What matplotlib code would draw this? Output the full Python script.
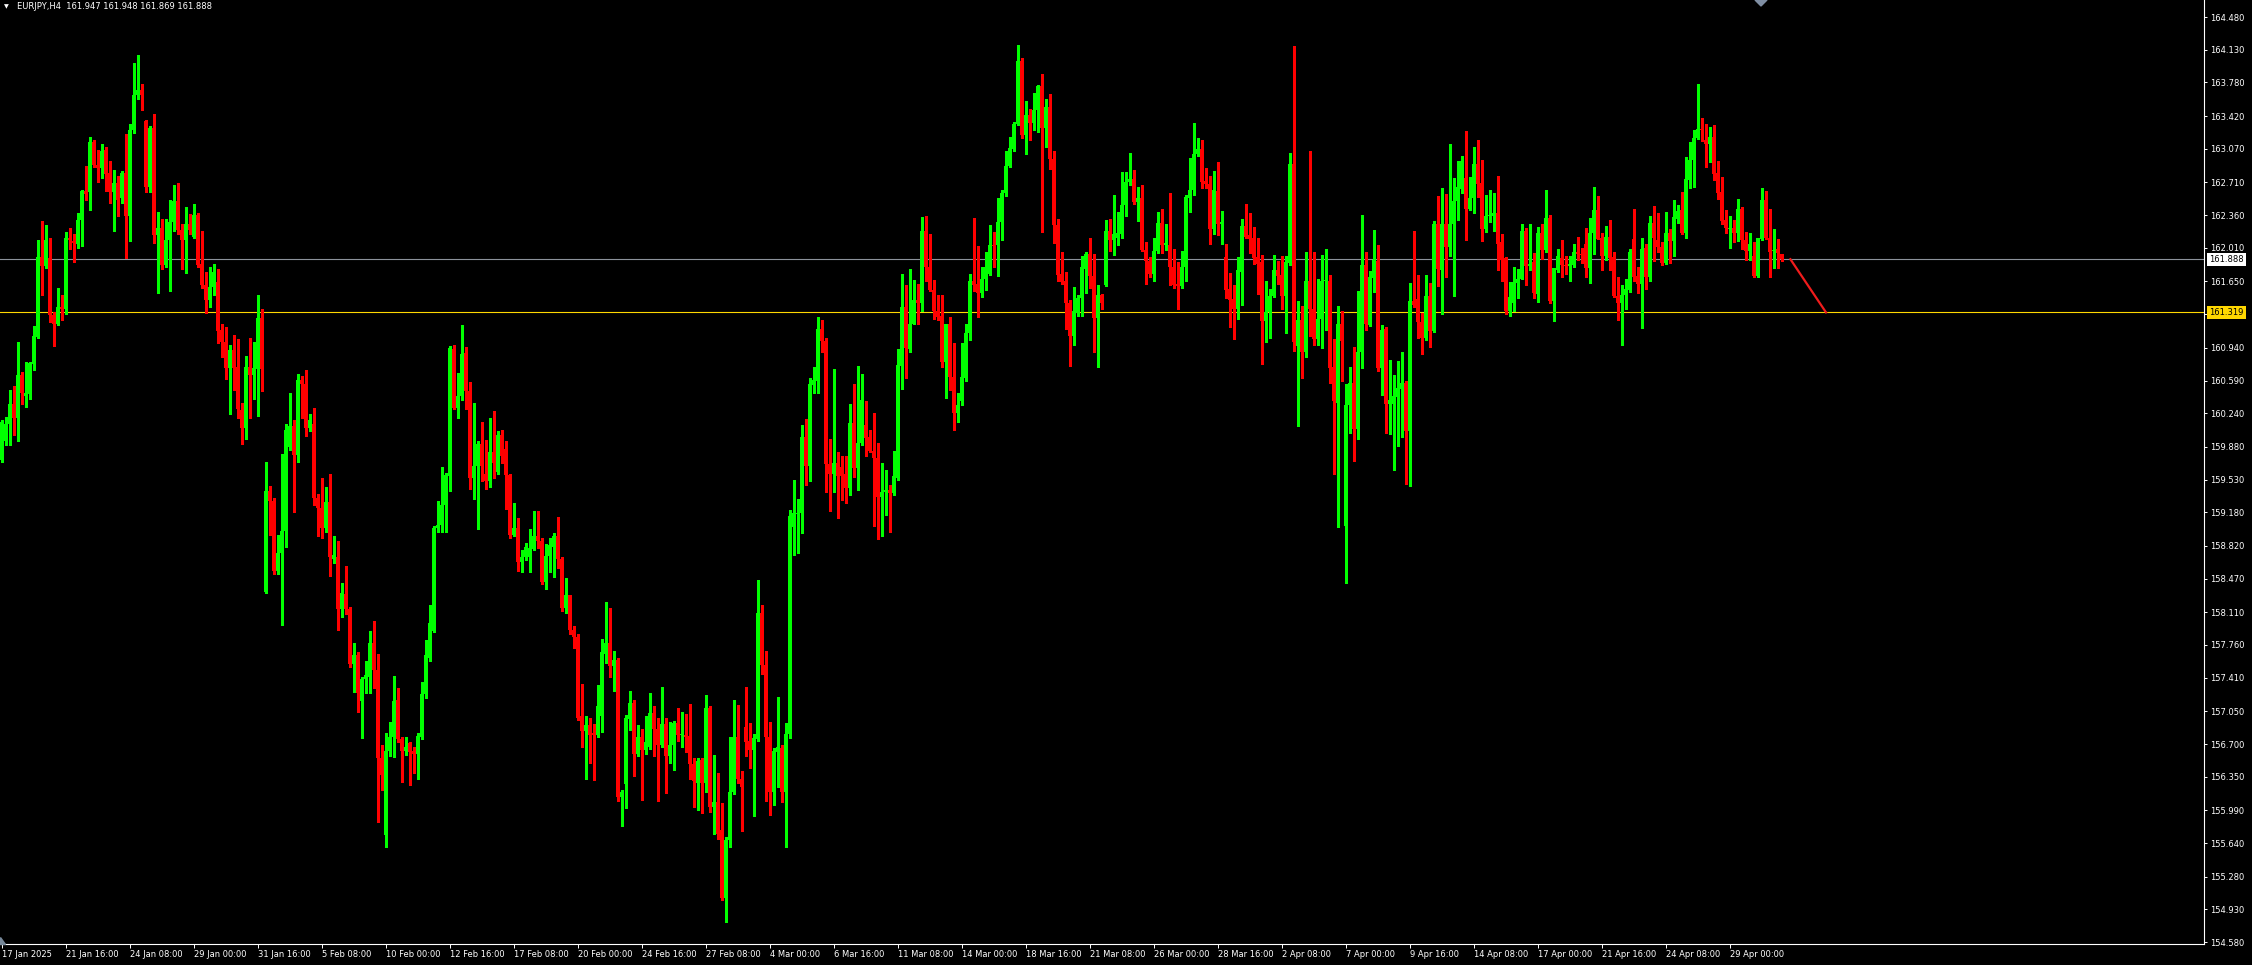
import matplotlib
matplotlib.use("Agg")
import matplotlib.pyplot as plt
from matplotlib.patches import Polygon
import numpy as np

# EURJPY H4 candles (bar 0 = 17 Jan 2025 00:00)
symbol = "EURJPY,H4"

opens = [
    159.74, 159.94, 160.13, 160.34, 160.19, 160.65, 160.42, 160.45, 160.77, 161.06,
    161.91, 161.82, 161.90, 161.29, 161.19, 161.38, 161.36, 162.12, 162.08, 162.05,
    162.31, 162.62, 162.61, 163.14, 162.90, 162.86, 163.06, 162.81, 162.61, 162.70,
    162.54, 162.81, 162.35, 163.27, 163.65, 163.70, 163.37, 162.66, 163.29, 162.15,
    162.22, 161.83, 162.09, 162.29, 162.51, 162.20, 162.09, 162.26, 162.13, 162.36,
    161.84, 161.61, 161.45, 161.59, 161.64, 161.13, 161.00, 160.72, 160.92, 160.73,
    160.27, 160.08, 160.73, 160.65, 160.71, 161.26, 158.33, 159.41, 159.30, 158.55,
    158.74, 158.98, 159.88, 160.10, 159.79, 160.60, 160.55, 160.08, 160.13, 159.33,
    159.23, 159.01, 159.29, 158.68, 158.70, 158.14, 158.31, 158.14, 157.56, 157.65,
    157.16, 157.40, 157.42, 157.78, 157.49, 156.55, 155.73, 156.62, 156.77, 157.17,
    156.75, 156.62, 156.71, 156.62, 156.59, 156.78, 157.23, 157.62, 157.91, 159.01,
    159.04, 159.26, 159.57, 160.93, 160.30, 160.42, 160.88, 160.48, 159.55, 159.68,
    159.91, 159.59, 159.52, 159.83, 159.61, 160.01, 159.86, 159.58, 158.94, 159.01,
    158.65, 158.70, 158.70, 158.79, 158.93, 158.87, 158.43, 158.71, 158.81, 158.93,
    158.68, 158.16, 158.29, 157.92, 157.85, 157.00, 156.84, 156.90, 156.82, 156.80,
    157.00, 157.66, 157.78, 157.54, 157.60, 156.13, 156.27, 156.97, 157.14, 156.59,
    156.77, 156.64, 156.67, 157.03, 156.86, 156.69, 156.91, 156.57, 156.69, 156.92,
    156.80, 156.80, 156.79, 156.49, 156.28, 156.53, 156.28, 157.09, 156.03, 156.08,
    155.78, 155.05, 155.67, 156.19, 156.78, 156.33, 156.88, 156.73, 156.64, 156.75,
    158.10, 157.55, 156.78, 156.19, 156.61, 156.66, 156.19, 156.81, 159.02, 159.16,
    159.17, 159.99, 159.67, 160.54, 160.58, 161.14, 161.01, 159.70, 159.59, 159.71,
    159.66, 159.59, 159.44, 160.14, 159.65, 159.92, 160.11, 159.99, 159.84, 159.76,
    159.34, 159.40, 159.42, 159.39, 159.55, 160.75, 161.38, 160.93, 161.19, 161.45,
    161.42, 162.19, 161.80, 161.56, 161.33, 161.28, 160.79, 161.19, 160.63, 160.24,
    160.37, 160.62, 161.10, 161.66, 161.62, 161.53, 161.68, 161.73, 162.04, 162.04,
    162.29, 162.60, 162.89, 163.07, 163.33, 164.01, 163.22, 163.43, 163.35, 163.48,
    163.74, 163.29, 163.52, 162.96, 162.25, 161.73, 161.66, 161.42, 161.07, 161.31,
    161.47, 161.78, 161.94, 161.71, 161.26, 161.50, 161.61, 162.19, 162.09, 162.12,
    162.16, 162.47, 162.71, 162.75, 162.50, 162.54, 161.99, 161.87, 161.73, 161.98,
    162.28, 162.04, 162.04, 161.81, 161.62, 161.60, 161.80, 162.54, 162.63, 163.01,
    163.07, 162.73, 162.69, 162.21, 162.62, 162.26, 161.91, 161.57, 161.46, 161.36,
    161.75, 162.24, 162.15, 162.12, 161.91, 161.86, 161.23, 161.32, 161.49, 161.77,
    161.72, 161.49, 161.85, 162.91, 160.96, 161.24, 160.89, 161.66, 161.35, 161.03,
    161.25, 161.65, 161.66, 160.73, 160.35, 161.20, 159.03, 160.33, 160.56, 160.07,
    160.89, 161.83, 161.18, 161.69, 161.87, 160.72, 161.14, 160.34, 160.34, 160.41,
    160.50, 160.56, 160.05, 161.44, 161.46, 161.22, 161.04, 161.49, 161.12, 162.27,
    161.77, 162.27, 162.02, 162.26, 162.51, 162.64, 162.76, 162.43, 162.54, 162.91,
    162.70, 162.21, 162.35, 162.35, 162.38, 162.07, 161.90, 161.33, 161.42, 161.63,
    161.68, 162.19, 161.82, 161.86, 161.52, 162.17, 161.99, 162.33, 161.44, 161.77,
    161.90, 161.83, 161.82, 161.83, 161.96, 161.94, 162.05, 161.79, 162.17, 162.41,
    162.12, 161.92, 162.13, 161.91, 161.49, 161.42, 161.50, 161.56, 162.10, 161.71,
    161.62, 162.01, 161.70, 162.28, 162.09, 162.02, 161.85, 162.17, 162.08, 162.32,
    162.42, 162.17, 162.74, 162.95, 163.18, 163.28, 163.16, 163.12, 163.20, 162.81,
    162.61, 162.31, 162.21, 162.22, 162.17, 162.43, 162.09, 161.98, 161.92, 161.71,
    162.10, 162.52, 162.12, 161.98, 162.00, 161.947,
]

highs = [
    160.17, 160.20, 160.49, 160.53, 161.00, 160.68, 160.79, 160.79, 161.17, 162.09,
    162.30, 162.25, 162.12, 161.32, 161.58, 161.51, 162.18, 162.22, 162.16, 162.38,
    162.63, 162.89, 163.20, 163.16, 163.06, 163.12, 163.09, 162.94, 162.84, 162.78,
    162.83, 163.23, 163.33, 163.99, 164.07, 163.76, 163.38, 163.31, 163.44, 162.39,
    162.32, 162.32, 162.52, 162.68, 162.70, 162.27, 162.45, 162.37, 162.48, 162.38,
    162.19, 161.75, 161.81, 161.84, 161.78, 161.19, 161.16, 160.97, 161.08, 161.03,
    160.35, 160.85, 161.04, 161.00, 161.50, 161.35, 159.72, 159.46, 159.33, 158.94,
    159.80, 160.13, 160.46, 160.17, 160.66, 160.64, 160.70, 160.23, 160.30, 159.38,
    159.55, 159.45, 159.59, 158.93, 158.87, 158.42, 158.61, 158.17, 157.78, 157.69,
    157.42, 157.59, 157.91, 158.02, 157.66, 156.69, 156.82, 156.94, 157.43, 157.30,
    156.78, 156.77, 156.72, 156.67, 156.82, 157.36, 157.81, 158.19, 159.03, 159.30,
    159.66, 159.60, 160.96, 160.97, 160.67, 161.18, 160.95, 160.57, 160.35, 159.94,
    160.15, 159.95, 160.19, 160.26, 160.05, 160.06, 159.94, 159.59, 159.28, 159.12,
    158.78, 158.85, 159.00, 159.19, 159.19, 158.90, 158.84, 158.91, 158.96, 159.13,
    158.70, 158.48, 158.30, 157.96, 157.88, 157.34, 157.00, 156.98, 156.91, 157.33,
    157.82, 158.22, 158.16, 157.70, 157.62, 156.21, 157.01, 157.27, 157.17, 156.90,
    156.86, 157.00, 157.25, 157.11, 156.98, 157.31, 156.98, 156.94, 156.95, 157.09,
    157.04, 157.02, 157.13, 156.55, 156.55, 156.55, 157.22, 157.11, 156.58, 156.39,
    156.07, 155.71, 156.78, 157.17, 157.12, 156.41, 157.31, 156.92, 156.81, 158.46,
    158.19, 157.70, 156.94, 156.66, 157.20, 156.69, 156.93, 159.20, 159.53, 159.32,
    160.11, 160.18, 160.62, 160.73, 161.27, 161.24, 161.05, 159.96, 160.71, 159.82,
    159.78, 159.78, 160.34, 160.55, 160.75, 160.66, 160.37, 160.06, 160.24, 159.92,
    159.71, 159.63, 159.47, 159.84, 160.93, 161.73, 161.61, 161.78, 161.67, 161.62,
    162.34, 162.35, 162.16, 161.67, 161.50, 161.51, 161.20, 161.27, 160.99, 160.46,
    160.99, 161.19, 161.73, 162.33, 162.03, 161.80, 161.96, 162.25, 162.18, 162.54,
    162.63, 163.05, 163.20, 163.36, 164.18, 164.04, 163.58, 163.50, 163.67, 163.75,
    163.87, 163.60, 163.66, 163.05, 162.32, 161.96, 161.75, 161.45, 161.59, 161.50,
    161.92, 161.96, 162.12, 161.94, 161.61, 161.52, 162.31, 162.32, 162.57, 162.39,
    162.82, 162.82, 163.02, 162.84, 162.66, 162.68, 162.07, 161.91, 162.12, 162.39,
    162.43, 162.26, 162.60, 162.00, 161.86, 161.98, 162.57, 162.97, 163.35, 163.19,
    163.16, 162.86, 162.78, 162.83, 162.93, 162.40, 162.05, 161.74, 161.61, 161.91,
    162.32, 162.48, 162.38, 162.23, 162.12, 161.93, 161.66, 161.57, 161.93, 161.87,
    161.92, 161.92, 163.03, 164.17, 161.44, 161.39, 161.96, 163.05, 161.96, 161.68,
    161.93, 162.00, 161.72, 161.03, 161.39, 161.33, 160.55, 160.73, 160.95, 161.55,
    162.36, 161.96, 161.76, 162.20, 162.04, 161.18, 161.16, 160.81, 160.65, 160.80,
    160.89, 160.59, 161.63, 162.19, 161.72, 161.31, 161.72, 161.63, 162.30, 162.56,
    162.65, 162.59, 163.12, 162.76, 162.94, 162.99, 163.26, 162.77, 163.09, 163.16,
    162.95, 162.58, 162.63, 162.60, 162.78, 162.16, 161.91, 161.64, 161.81, 161.78,
    162.26, 162.22, 162.27, 161.95, 162.23, 162.27, 162.63, 162.36, 161.79, 162.00,
    162.09, 161.92, 161.92, 162.05, 162.13, 162.01, 162.22, 162.33, 162.66, 162.56,
    162.17, 162.24, 162.31, 161.96, 161.70, 161.61, 161.68, 162.00, 162.43, 161.80,
    162.12, 162.05, 162.35, 162.46, 162.38, 162.07, 162.39, 162.21, 162.52, 162.47,
    162.61, 162.98, 163.14, 163.27, 163.76, 163.40, 163.33, 163.30, 163.32, 162.94,
    162.77, 162.42, 162.35, 162.31, 162.53, 162.45, 162.18, 162.17, 162.07, 162.12,
    162.65, 162.62, 162.43, 162.21, 162.10, 161.948,
]

lows = [
    159.72, 159.90, 159.90, 160.01, 159.94, 160.34, 160.31, 160.39, 160.70, 161.05,
    161.51, 161.79, 161.22, 160.96, 161.18, 161.24, 161.30, 162.00, 161.86, 162.01,
    162.03, 162.52, 162.42, 162.87, 162.71, 162.76, 162.62, 162.49, 162.19, 162.35,
    162.49, 161.90, 162.08, 163.24, 163.60, 163.49, 162.61, 162.61, 162.06, 161.53,
    161.78, 161.80, 161.55, 162.19, 162.16, 161.78, 161.74, 162.16, 162.12, 161.80,
    161.58, 161.31, 161.38, 161.51, 160.99, 160.84, 160.61, 160.23, 160.49, 160.19,
    159.91, 159.96, 160.19, 160.39, 160.21, 160.48, 158.32, 158.94, 158.52, 158.52,
    157.97, 158.81, 159.85, 159.18, 159.72, 160.19, 160.00, 160.05, 159.26, 158.93,
    158.90, 158.97, 158.50, 158.64, 157.92, 158.06, 158.09, 157.52, 157.26, 157.04,
    156.76, 157.25, 157.25, 157.30, 155.87, 156.21, 155.60, 156.57, 156.56, 156.72,
    156.29, 156.58, 156.26, 156.39, 156.33, 156.75, 157.19, 157.59, 157.90, 158.97,
    158.97, 158.97, 159.41, 160.29, 160.19, 160.38, 160.28, 159.43, 159.32, 159.00,
    159.52, 159.43, 159.45, 159.55, 159.59, 159.71, 159.21, 158.91, 158.93, 158.55,
    158.54, 158.67, 158.54, 158.78, 158.80, 158.41, 158.36, 158.54, 158.49, 158.58,
    158.12, 158.10, 157.88, 157.73, 156.96, 156.67, 156.33, 156.50, 156.32, 156.78,
    156.83, 157.57, 157.42, 157.27, 156.09, 155.82, 156.02, 156.85, 156.36, 156.57,
    156.10, 156.59, 156.65, 156.57, 156.09, 156.67, 156.18, 156.50, 156.42, 156.73,
    156.67, 156.61, 156.33, 156.03, 155.99, 155.96, 156.19, 155.97, 155.74, 155.68,
    155.03, 154.80, 155.60, 156.17, 156.28, 155.77, 156.57, 156.44, 155.93, 156.73,
    157.45, 156.09, 155.94, 156.05, 156.24, 156.08, 155.60, 156.76, 158.72, 158.74,
    158.96, 159.47, 159.51, 160.46, 160.46, 160.89, 159.40, 159.19, 159.40, 159.12,
    159.31, 159.28, 159.37, 159.56, 159.42, 159.90, 159.78, 159.82, 159.03, 158.89,
    158.93, 159.15, 158.97, 159.37, 159.53, 160.50, 160.62, 160.89, 161.19, 161.20,
    161.33, 161.66, 161.55, 161.25, 161.24, 160.73, 160.40, 160.49, 160.06, 160.15,
    160.33, 160.58, 161.02, 161.55, 161.27, 161.48, 161.56, 161.72, 161.80, 161.71,
    162.09, 162.56, 162.87, 163.05, 163.32, 163.19, 163.01, 163.16, 163.27, 163.25,
    162.18, 163.09, 162.85, 162.06, 161.66, 161.62, 161.14, 160.74, 160.97, 161.28,
    161.28, 161.53, 161.58, 160.89, 160.73, 161.36, 161.60, 161.98, 161.93, 162.04,
    162.12, 162.35, 162.68, 162.48, 162.30, 161.98, 161.62, 161.70, 161.66, 161.95,
    161.95, 161.99, 161.61, 161.58, 161.36, 161.58, 161.66, 162.39, 162.57, 162.99,
    162.65, 162.65, 162.05, 162.16, 162.15, 162.05, 161.47, 161.16, 161.03, 161.25,
    161.40, 162.12, 161.95, 161.84, 161.52, 160.77, 161.00, 161.05, 161.48, 161.62,
    161.36, 161.10, 161.83, 160.91, 160.10, 160.62, 160.84, 161.07, 160.97, 160.97,
    160.94, 161.13, 160.56, 159.59, 159.02, 160.59, 158.42, 160.03, 159.73, 159.96,
    160.72, 161.13, 161.17, 161.54, 160.69, 160.44, 160.03, 160.02, 159.63, 159.89,
    159.99, 159.48, 159.46, 161.38, 161.05, 160.87, 161.02, 160.95, 161.11, 161.60,
    161.30, 161.70, 161.92, 161.49, 162.31, 162.60, 162.09, 162.42, 162.38, 162.55,
    162.08, 162.18, 162.29, 162.19, 161.77, 161.65, 161.30, 161.28, 161.33, 161.47,
    161.68, 161.61, 161.77, 161.47, 161.43, 161.89, 161.96, 161.42, 161.23, 161.75,
    161.70, 161.73, 161.66, 161.80, 161.88, 161.85, 161.70, 161.63, 161.94, 162.10,
    161.77, 161.88, 161.77, 161.48, 161.24, 160.97, 161.35, 161.54, 161.66, 161.53,
    161.15, 161.57, 161.65, 161.87, 161.97, 161.83, 161.84, 161.85, 161.92, 162.28,
    162.16, 162.12, 162.65, 162.66, 163.17, 163.15, 162.87, 162.93, 162.74, 162.53,
    162.27, 162.17, 162.01, 162.07, 162.08, 162.00, 161.88, 161.88, 161.70, 161.70,
    162.09, 162.10, 161.70, 161.79, 161.79, 161.869,
]

closes = [
    160.15, 160.13, 160.34, 160.19, 160.65, 160.46, 160.46, 160.78, 161.07, 161.91,
    161.82, 162.09, 161.29, 161.19, 161.38, 161.35, 162.12, 162.09, 162.06, 162.31,
    162.62, 162.59, 163.14, 162.90, 162.86, 163.05, 162.80, 162.61, 162.70, 162.52,
    162.81, 162.35, 163.27, 163.65, 163.70, 163.65, 162.66, 163.29, 162.15, 162.22,
    161.83, 162.09, 162.29, 162.51, 162.20, 162.09, 162.26, 162.20, 162.36, 161.83,
    161.61, 161.45, 161.59, 161.75, 161.12, 161.00, 160.72, 160.92, 160.72, 160.28,
    160.08, 160.73, 160.65, 160.72, 161.26, 160.71, 159.41, 159.30, 158.55, 158.74,
    158.98, 160.06, 160.10, 159.79, 160.60, 160.55, 160.08, 160.17, 159.33, 159.23,
    159.01, 159.29, 158.70, 158.72, 158.14, 158.32, 158.14, 157.56, 157.65, 157.25,
    157.40, 157.44, 157.78, 157.49, 156.55, 156.37, 156.62, 156.78, 157.16, 156.75,
    156.62, 156.67, 156.61, 156.59, 156.79, 157.23, 157.65, 158.00, 159.01, 159.04,
    159.26, 159.58, 160.94, 160.30, 160.42, 160.87, 160.48, 159.55, 159.68, 159.91,
    159.67, 159.52, 159.83, 159.71, 160.01, 159.78, 159.58, 158.94, 159.01, 158.65,
    158.70, 158.81, 158.80, 158.93, 158.87, 158.43, 158.71, 158.83, 158.93, 158.68,
    158.16, 158.29, 157.92, 157.85, 156.98, 156.84, 156.90, 156.80, 156.80, 157.11,
    157.68, 157.78, 157.54, 157.60, 156.13, 156.19, 156.98, 157.14, 156.59, 156.77,
    156.64, 156.72, 157.03, 156.86, 156.69, 156.91, 156.57, 156.69, 156.92, 156.80,
    156.80, 156.78, 156.49, 156.30, 156.52, 156.28, 157.09, 156.03, 156.08, 155.74,
    155.05, 155.67, 156.19, 156.78, 156.33, 156.24, 156.72, 156.64, 156.76, 158.10,
    157.55, 156.78, 156.19, 156.62, 156.67, 156.19, 156.81, 159.14, 159.17, 159.17,
    159.99, 159.68, 160.55, 160.60, 161.14, 161.01, 159.70, 159.59, 159.71, 159.57,
    159.57, 159.44, 160.14, 159.65, 159.92, 160.38, 159.98, 159.84, 159.76, 159.34,
    159.40, 159.42, 159.39, 159.57, 160.76, 161.38, 160.94, 161.19, 161.45, 161.42,
    162.19, 161.80, 161.56, 161.33, 161.27, 160.79, 161.19, 160.63, 160.24, 160.33,
    160.63, 161.10, 161.66, 161.61, 161.53, 161.68, 161.80, 162.04, 162.03, 162.29,
    162.60, 162.89, 163.08, 163.33, 164.01, 163.22, 163.43, 163.35, 163.48, 163.74,
    163.29, 163.52, 162.96, 162.25, 161.72, 161.64, 161.42, 161.07, 161.33, 161.47,
    161.80, 161.94, 161.71, 161.26, 161.50, 161.42, 162.19, 162.09, 162.16, 162.17,
    162.47, 162.71, 162.75, 162.50, 162.54, 161.99, 161.87, 161.73, 161.98, 162.28,
    162.04, 162.06, 161.81, 161.61, 161.60, 161.80, 162.55, 162.63, 163.01, 163.07,
    162.71, 162.69, 162.21, 162.63, 162.26, 162.29, 161.56, 161.45, 161.36, 161.77,
    162.24, 162.13, 162.10, 161.90, 161.84, 161.23, 161.32, 161.49, 161.77, 161.71,
    161.49, 161.86, 162.91, 161.00, 161.24, 160.89, 161.66, 161.36, 161.03, 161.25,
    161.66, 161.66, 160.72, 160.37, 161.20, 161.01, 160.33, 160.56, 160.07, 160.89,
    161.83, 161.19, 161.70, 161.88, 160.72, 161.13, 160.34, 160.38, 160.42, 160.51,
    160.56, 160.05, 161.44, 161.40, 161.22, 161.04, 161.49, 161.12, 162.27, 161.78,
    162.27, 162.02, 162.27, 162.51, 162.66, 162.94, 162.43, 162.54, 162.91, 162.69,
    162.21, 162.35, 162.36, 162.38, 162.05, 161.88, 161.33, 161.48, 161.64, 161.68,
    162.19, 161.82, 161.84, 161.53, 162.17, 161.99, 162.33, 161.44, 161.79, 161.92,
    161.83, 161.82, 161.84, 161.96, 161.94, 161.93, 161.79, 162.17, 162.41, 162.10,
    161.92, 162.13, 161.90, 161.49, 161.42, 161.51, 161.57, 161.97, 161.70, 161.62,
    162.00, 161.70, 162.28, 162.12, 162.02, 161.85, 162.17, 162.08, 162.34, 162.40,
    162.17, 162.75, 162.95, 163.18, 163.28, 163.27, 163.12, 163.20, 162.80, 162.60,
    162.30, 162.22, 162.22, 162.17, 162.43, 162.09, 161.98, 162.05, 161.71, 162.12,
    162.52, 162.12, 161.97, 161.98, 161.95, 161.888,
]

bid_price = 161.888
level_price = 161.319
arrow_x = [447.2, 456.1]
arrow_y = [161.888, 161.319]

price_ticks = [
    164.480, 164.130, 163.780, 163.420, 163.070, 162.710, 162.360, 162.010,
    161.650, 161.300, 160.940, 160.590, 160.240, 159.880, 159.530, 159.180,
    158.820, 158.470, 158.110, 157.760, 157.410, 157.050, 156.700, 156.350,
    155.990, 155.640, 155.280, 154.930, 154.580,
]

time_ticks = [0, 16, 32, 48, 64, 80, 96, 112, 128, 144, 160, 176, 192, 208,
              224, 240, 256, 272, 288, 304, 320, 336, 352, 368, 384, 400, 416, 432]
time_labels = [
    "17 Jan 2025", "21 Jan 16:00", "24 Jan 08:00", "29 Jan 00:00", "31 Jan 16:00",
    "5 Feb 08:00", "10 Feb 00:00", "12 Feb 16:00", "17 Feb 08:00", "20 Feb 00:00",
    "24 Feb 16:00", "27 Feb 08:00", "4 Mar 00:00", "6 Mar 16:00", "11 Mar 08:00",
    "14 Mar 00:00", "18 Mar 16:00", "21 Mar 08:00", "26 Mar 00:00", "28 Mar 16:00",
    "2 Apr 08:00", "7 Apr 00:00", "9 Apr 16:00", "14 Apr 08:00", "17 Apr 00:00",
    "21 Apr 16:00", "24 Apr 08:00", "29 Apr 00:00",
]

UP = "#00ff00"
DOWN = "#ff0000"
W, H = 2252, 965

o = np.array(opens)
h = np.array(highs)
l = np.array(lows)
c = np.array(closes)
x = np.arange(len(o))
up = c >= o
colors = np.where(up, UP, DOWN)

fig = plt.figure(figsize=(W / 100, H / 100), dpi=100, facecolor="black")
ax = fig.add_axes([0, 21 / H, 2204 / W, 944 / H])
ax.set_facecolor("black")

# wicks and bodies
ax.vlines(x, l, h, colors=colors, linewidth=0.75, antialiased=False, zorder=3)
body_low = np.minimum(o, c)
body_h = np.maximum(np.abs(c - o), 0.011)
ax.bar(x, body_h, bottom=body_low, width=0.75, color=colors,
       linewidth=0, antialiased=False, zorder=4)

# bid line and level line
ax.axhline(bid_price, color="#8c929b", linewidth=0.8, zorder=2)
ax.axhline(level_price, color="#ffd700", linewidth=0.8, zorder=2)

# projection line
ax.plot(arrow_x, arrow_y, color="#f01c1c", linewidth=1.6, zorder=5)

ax.set_xlim(-0.425, 550.6)
ax.set_ylim(154.56, 164.662)

for side in ("left", "top"):
    ax.spines[side].set_visible(False)
for side in ("right", "bottom"):
    ax.spines[side].set_color("white")
    ax.spines[side].set_linewidth(0.8)

ax.yaxis.tick_right()
ax.set_yticks(price_ticks)
ax.set_yticklabels([f"{v:.3f}" for v in price_ticks])
ax.tick_params(axis="y", colors="white", length=2.5, width=0.7,
               labelsize=6, pad=2)

ax.set_xticks(time_ticks)
ax.set_xticklabels(time_labels)
ax.tick_params(axis="x", colors="white", length=3, width=0.7,
               labelsize=6, pad=1.5)
for lab in ax.get_xticklabels():
    lab.set_horizontalalignment("left")

# price boxes on the scale
ytr = ax.get_yaxis_transform()
ax.text(1.0025, bid_price, f"{bid_price:.3f}", transform=ytr, fontsize=6,
        color="black", va="center", ha="left", zorder=10,
        bbox=dict(boxstyle="square,pad=0.25", fc="white", ec="none"))
ax.text(1.0025, level_price, f"{level_price:.3f}", transform=ytr, fontsize=6,
        color="black", va="center", ha="left", zorder=10,
        bbox=dict(boxstyle="square,pad=0.25", fc="#ffd700", ec="none"))

# header
fig.text(4 / W, 1 - 6.5 / H, "\u25bc", color="white", fontsize=4.5,
         va="center", ha="left")
fig.text(17 / W, 1 - 6.5 / H,
         f"{symbol}  {o[-1]:.3f} {h[-1]:.3f} {l[-1]:.3f} {c[-1]:.3f}",
         color="white", fontsize=6, va="center", ha="left")

# small chart markers
def px(pts):
    return [(a / W, 1 - b / H) for a, b in pts]

fig.add_artist(Polygon(px([(1755, 0), (1767, 0), (1761, 6)]), closed=True,
                       transform=fig.transFigure, color="#7f8ea3"))
fig.add_artist(Polygon(px([(0, 937), (0, 944), (5, 944)]), closed=True,
                       transform=fig.transFigure, color="#778899"))

fig.savefig("out.png", dpi=100, facecolor="black")
